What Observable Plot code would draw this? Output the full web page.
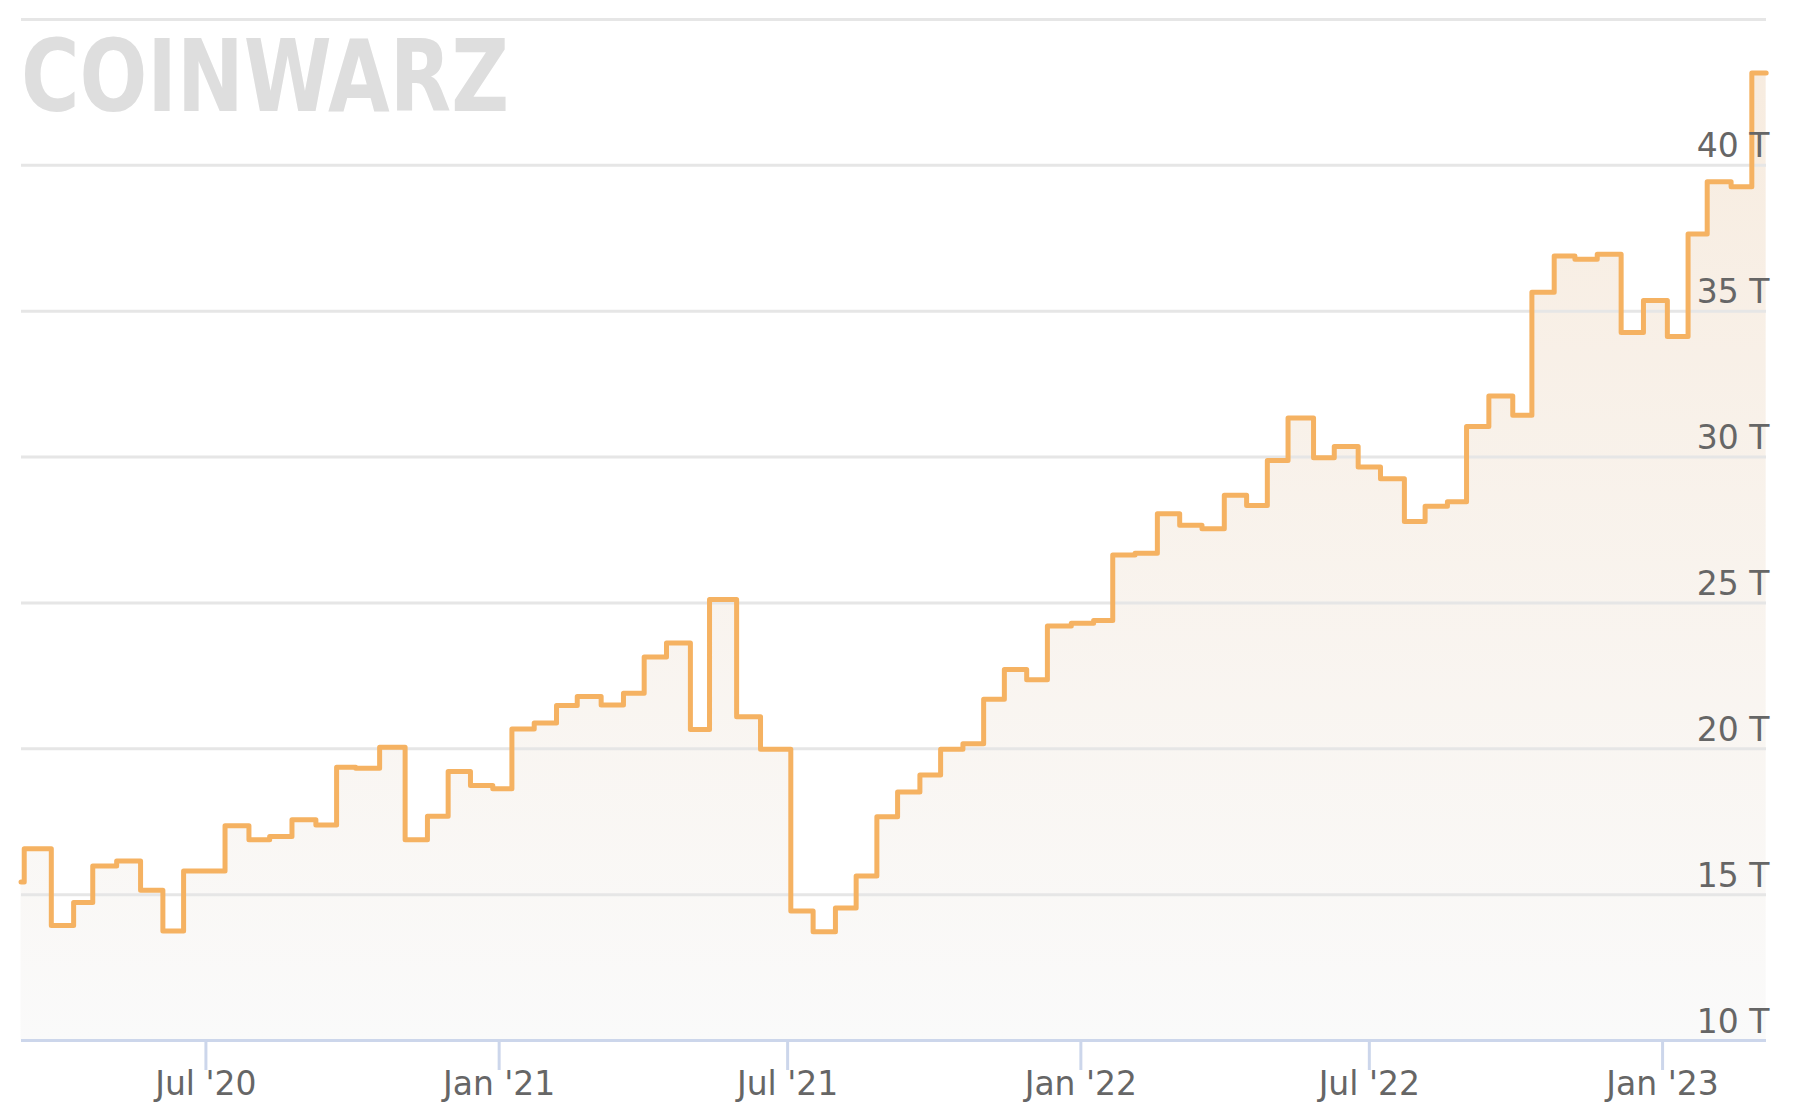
<!DOCTYPE html>
<html>
<head>
<meta charset="utf-8">
<script src="https://cdn.jsdelivr.net/npm/d3@7"></script>
<script src="https://cdn.jsdelivr.net/npm/@observablehq/plot@0.6"></script>
<style>
html, body { margin: 0; padding: 0; background: #ffffff; }
#wrap { position: relative; width: 1794px; height: 1112px; overflow: hidden; background: #ffffff; }
</style>
</head>
<body>
<div id="wrap"></div>
<script>
// Difficulty adjustment dates (UTC) and difficulty values in T (trillions)
const adjustDates = [
  "2020-03-07","2020-03-09","2020-03-26","2020-04-09","2020-04-21","2020-05-06","2020-05-21","2020-06-04",
  "2020-06-17","2020-07-13","2020-07-28","2020-08-10","2020-08-24","2020-09-08","2020-09-21","2020-10-03",
  "2020-10-18","2020-11-03","2020-11-17","2020-11-30","2020-12-14","2020-12-28","2021-01-09","2021-01-23",
  "2021-02-06","2021-02-19","2021-03-06","2021-03-20","2021-04-02","2021-04-16","2021-05-01","2021-05-13",
  "2021-05-30","2021-06-14","2021-07-03","2021-07-17","2021-07-31","2021-08-13","2021-08-26","2021-09-08",
  "2021-09-22","2021-10-05","2021-10-19","2021-11-01","2021-11-14","2021-11-28","2021-12-11","2021-12-26",
  "2022-01-09","2022-01-21","2022-02-04","2022-02-18","2022-03-04","2022-03-18","2022-04-01","2022-04-15",
  "2022-04-28","2022-05-11","2022-05-27","2022-06-09","2022-06-24","2022-07-08","2022-07-23","2022-08-05",
  "2022-08-19","2022-08-31","2022-09-14","2022-09-29","2022-10-11","2022-10-25","2022-11-07","2022-11-21",
  "2022-12-06","2022-12-20","2023-01-04","2023-01-17","2023-01-29","2023-02-13","2023-02-26","2023-03-07"
];
const difficultyT = [
  15.43, 16.57, 13.94, 14.73, 15.98, 16.15, 15.15, 13.75,
  15.81, 17.36, 16.88, 16.99, 17.57, 17.39, 19.37, 19.33,
  20.05, 16.88, 17.69, 19.22, 18.74, 18.63, 20.68, 20.88,
  21.48, 21.79, 21.50, 21.90, 23.15, 23.63, 20.66, 25.12,
  21.10, 19.98, 14.44, 13.73, 14.54, 15.64, 17.67, 18.52,
  19.10, 19.98, 20.17, 21.70, 22.72, 22.37, 24.21, 24.30,
  24.40, 26.64, 26.70, 28.06, 27.66, 27.54, 28.69, 28.34,
  29.88, 31.34, 29.98, 30.36, 29.66, 29.26, 27.79, 28.31,
  28.47, 31.05, 32.09, 31.43, 35.65, 36.89, 36.78, 36.95,
  34.27, 35.37, 34.13, 37.65, 39.44, 39.27, 43.17, 43.17
];
const yTicks = [10, 15, 20, 25, 30, 35, 40, 45];
const yLabelTicks = [10, 15, 20, 25, 30, 35, 40];
const xTickDates = ["2020-07-01","2021-01-01","2021-07-01","2022-01-01","2022-07-01","2023-01-01"];
const xTickLabels = ["Jul '20","Jan '21","Jul '21","Jan '22","Jul '22","Jan '23"];
const xDomain = ["2020-03-07T07:00:00Z","2023-03-07T05:00:00Z"];
const logoText = "COINWARZ";

const data = adjustDates.map((d, i) => ({date: new Date(d + "T00:00:00Z"), value: difficultyT[i]}));
const tickDates = xTickDates.map(d => new Date(d + "T00:00:00Z"));
const tickLabel = new Map(tickDates.map((d, i) => [+d, xTickLabels[i]]));

const chart = Plot.plot({
  width: 1794,
  height: 1112,
  marginLeft: 21,
  marginRight: 28,
  marginTop: 19,
  marginBottom: 72,
  style: {fontFamily: "'Lucida Grande','DejaVu Sans',sans-serif", background: "#ffffff", maxWidth: "none"},
  x: {type: "utc", domain: xDomain.map(s => new Date(s))},
  y: {domain: [yTicks[0], yTicks[yTicks.length - 1]], axis: null},
  marks: [
    Plot.areaY(data, {x: "date", y1: yTicks[0], y2: "value", curve: "step-after", fill: "url(#diffGrad)"}),
    Plot.ruleY(yTicks.slice(1), {stroke: "#e6e6e6", strokeWidth: 3}),
    Plot.ruleY([yTicks[0]], {stroke: "#ccd6eb", strokeWidth: 3}),
    Plot.axisX(tickDates, {
      tickSize: 30, tickPadding: 1, stroke: "#ccd6eb", strokeWidth: 3,
      color: "#666666", fontSize: 33, tickFormat: d => tickLabel.get(+d), label: null
    }),
    Plot.line(data, {x: "date", y: "value", curve: "step-after", stroke: "#f5b262", strokeWidth: 5,
      strokeLinejoin: "round", strokeLinecap: "round"}),
    Plot.text(yLabelTicks, {y: d => d, text: d => `${d} T`, frameAnchor: "right", textAnchor: "end",
      lineAnchor: "bottom", dx: 3, dy: -8, fontSize: 33, fill: "#666666"})
  ]
});

const yScale = chart.scale("y");
const svg = d3.select(chart);
const defs = svg.insert("defs", ":first-child");
const grad = defs.append("linearGradient")
  .attr("id", "diffGrad").attr("gradientUnits", "userSpaceOnUse")
  .attr("x1", 0).attr("x2", 0)
  .attr("y1", yScale.apply(yTicks[yTicks.length - 1]))
  .attr("y2", yScale.apply(yTicks[0]));
grad.append("stop").attr("offset", 0).attr("stop-color", "#f7ebde");
grad.append("stop").attr("offset", 1).attr("stop-color", "#fafafa");

// Watermark logo
svg.insert("text", "defs + *")
  .attr("x", 21).attr("y", 111)
  .attr("text-anchor", "start")
  .attr("font-family", "'DejaVu Sans', sans-serif")
  .attr("font-weight", "bold")
  .attr("font-size", 100)
  .attr("textLength", 488)
  .attr("lengthAdjust", "spacingAndGlyphs")
  .attr("fill", "#dedede")
  .text(logoText);

document.getElementById("wrap").appendChild(chart);
</script>
</body>
</html>
